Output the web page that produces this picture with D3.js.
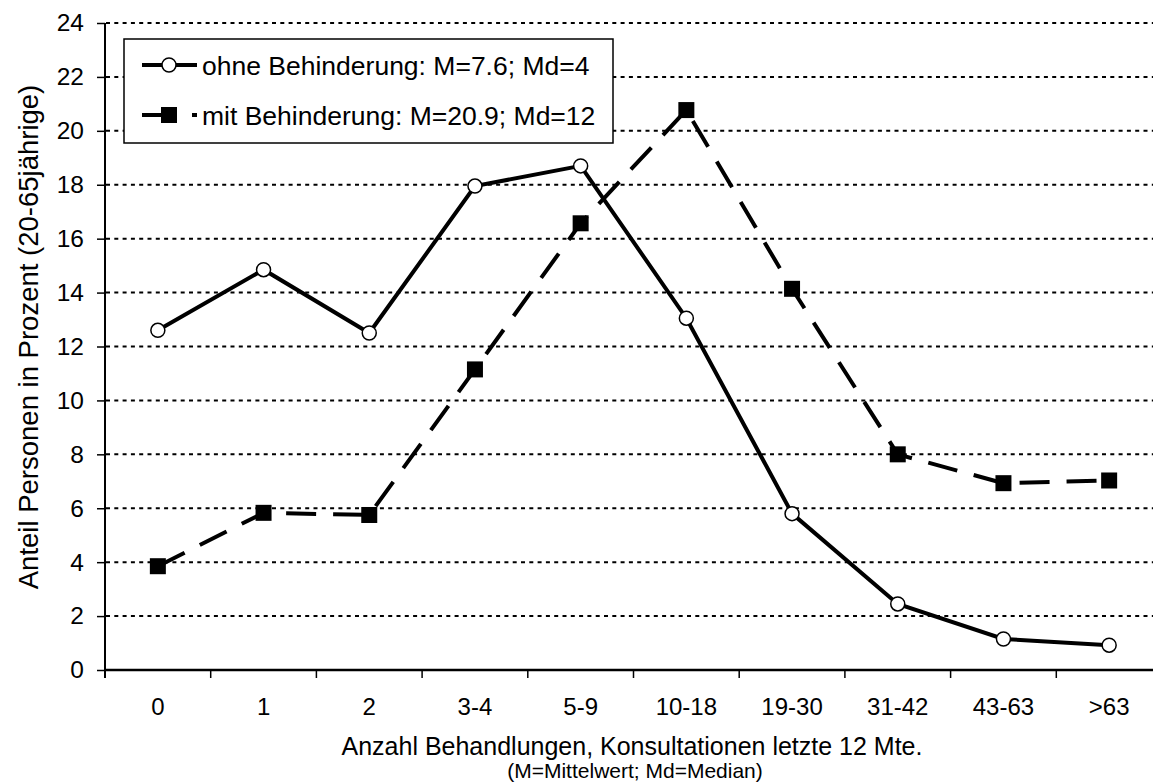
<!DOCTYPE html>
<html>
<head>
<meta charset="utf-8">
<script src="https://cdn.jsdelivr.net/npm/d3@7"></script>
<style>
  html, body { margin: 0; padding: 0; background: #fff; }
  svg { display: block; font-family: "Liberation Sans", Arial, sans-serif; }
</style>
</head>
<body>
<svg id="chart" width="1153" height="783"></svg>
<script>
const categories = ["0", "1", "2", "3-4", "5-9", "10-18", "19-30", "31-42", "43-63", ">63"];
const ohneValues = [12.6, 14.85, 12.5, 17.95, 18.7, 13.05, 5.8, 2.45, 1.15, 0.92];
const mitValues  = [3.85, 5.83, 5.75, 11.15, 16.57, 20.77, 14.14, 8.0, 6.93, 7.03];
const yTicks = [0, 2, 4, 6, 8, 10, 12, 14, 16, 18, 20, 22, 24];
const legendLabels = ["ohne Behinderung: M=7.6; Md=4", "mit Behinderung: M=20.9; Md=12"];
const xTitle = "Anzahl Behandlungen, Konsultationen letzte 12 Mte.";
const xSubtitle = "(M=Mittelwert; Md=Median)";
const yTitle = "Anteil Personen in Prozent (20-65jährige)";

(function () {
const svg = d3.select("#chart");
const pLeft = 105, pRight = 1162, pTop = 23, pBottom = 670;
const FONT = "Liberation Sans, Arial, sans-serif";

const x = d3.scaleBand().domain(categories).range([pLeft, pRight]).paddingInner(0).paddingOuter(0);
const y = d3.scaleLinear().domain([0, 24]).range([pBottom, pTop]);

// gridlines
svg.append("g").selectAll("line").data(yTicks.filter(d => d > 0)).join("line")
  .attr("x1", pLeft + 1).attr("x2", 1153)
  .attr("y1", d => y(d)).attr("y2", d => y(d))
  .attr("stroke", "#000").attr("stroke-width", 2).attr("stroke-dasharray", "4,4.3");

// y axis
const yAxis = d3.axisLeft(y).tickValues(yTicks).tickSize(8).tickPadding(13).tickFormat(d3.format("d"));
const gy = svg.append("g").attr("transform", `translate(${pLeft},0)`).call(yAxis);
gy.select(".domain").attr("stroke", "#000").attr("stroke-width", 2).attr("d", `M0,${pTop}V${pBottom + 8}`);
gy.selectAll(".tick line").attr("stroke", "#000").attr("stroke-width", 1.5);
gy.selectAll(".tick text").attr("font-size", 24.5).attr("fill", "#000").attr("font-family", FONT);

// x axis
const xAxis = d3.axisBottom(x).tickSize(0).tickPadding(0);
const gx = svg.append("g").attr("transform", `translate(0,${pBottom})`).call(xAxis);
gx.select(".domain").attr("stroke", "#000").attr("stroke-width", 2.5).attr("d", `M${pLeft},0H1153`);
gx.selectAll(".tick text").attr("font-size", 24).attr("fill", "#000").attr("dy", null).attr("y", 45)
  .attr("font-family", FONT);
// boundary ticks between categories
svg.append("g").selectAll("line").data(categories).join("line")
  .attr("x1", d => x(d)).attr("x2", d => x(d))
  .attr("y1", pBottom).attr("y2", pBottom + 8)
  .attr("stroke", "#000").attr("stroke-width", 1.5);

const cx = c => x(c) + x.bandwidth() / 2;
const lineGen = d3.line().x((d, i) => cx(categories[i])).y(d => y(d));

// mit line (dashed)
svg.append("path").datum(mitValues).attr("d", lineGen)
  .attr("fill", "none").attr("stroke", "#000").attr("stroke-width", 4).attr("stroke-dasharray", "30,17");
svg.append("g").selectAll("rect").data(mitValues).join("rect")
  .attr("x", (d, i) => cx(categories[i]) - 8).attr("y", d => y(d) - 8)
  .attr("width", 16).attr("height", 16).attr("fill", "#000");

// ohne line (solid)
svg.append("path").datum(ohneValues).attr("d", lineGen)
  .attr("fill", "none").attr("stroke", "#000").attr("stroke-width", 4);
svg.append("g").selectAll("circle").data(ohneValues).join("circle")
  .attr("cx", (d, i) => cx(categories[i])).attr("cy", d => y(d)).attr("r", 7)
  .attr("fill", "#fff").attr("stroke", "#000").attr("stroke-width", 1.5);

// legend
const lg = svg.append("g");
lg.append("rect").attr("x", 124).attr("y", 39).attr("width", 489).attr("height", 104)
  .attr("fill", "#fff").attr("stroke", "#000").attr("stroke-width", 1.5);
const rows = [65, 115];
lg.append("line").attr("x1", 142).attr("x2", 197).attr("y1", rows[0]).attr("y2", rows[0])
  .attr("stroke", "#000").attr("stroke-width", 4);
lg.append("circle").attr("cx", 169).attr("cy", rows[0]).attr("r", 7)
  .attr("fill", "#fff").attr("stroke", "#000").attr("stroke-width", 1.5);
lg.append("line").attr("x1", 142).attr("x2", 197).attr("y1", rows[1]).attr("y2", rows[1])
  .attr("stroke", "#000").attr("stroke-width", 4).attr("stroke-dasharray", "28,22");
lg.append("rect").attr("x", 161).attr("y", rows[1] - 8).attr("width", 16).attr("height", 16).attr("fill", "#000");
lg.selectAll("text").data(legendLabels).join("text")
  .attr("x", 202).attr("y", (d, i) => rows[i] + 9.5)
  .attr("font-size", 26.5).attr("fill", "#000").text(d => d);

// axis titles
svg.append("text").attr("x", 632).attr("y", 755).attr("text-anchor", "middle")
  .attr("font-size", 25).attr("fill", "#000").text(xTitle);
svg.append("text").attr("x", 635).attr("y", 778).attr("text-anchor", "middle")
  .attr("font-size", 21).attr("fill", "#000").text(xSubtitle);
svg.append("text").attr("transform", `translate(38,337) rotate(-90)`).attr("text-anchor", "middle")
  .attr("font-size", 27.5).attr("fill", "#000").text(yTitle);
})();
</script>
</body>
</html>
